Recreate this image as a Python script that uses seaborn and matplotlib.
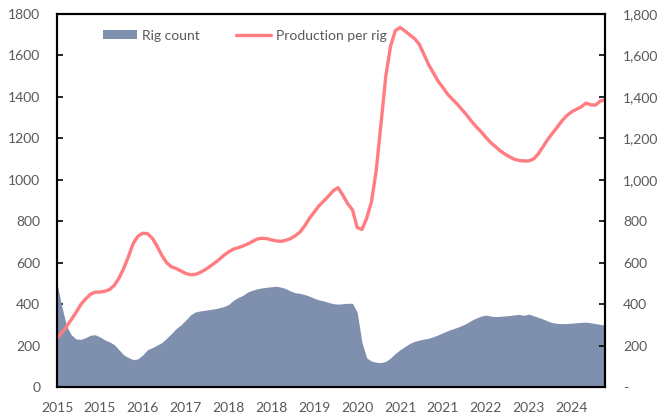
import matplotlib
matplotlib.use("Agg")
import matplotlib.pyplot as plt
import matplotlib.ticker as mticker
from matplotlib.patches import Patch
from matplotlib.lines import Line2D
import numpy as np
import pandas as pd
import seaborn as sns

# Monthly series, Jan 2015 - Aug 2024
rig_count = [
    500, 390, 295, 252, 232, 230, 238, 250, 252, 242, 228, 218,   # 2015
    205, 180, 155, 142, 132, 136, 155, 180, 190, 202, 215, 235,   # 2016
    258, 282, 300, 322, 348, 362, 367, 370, 374, 377, 382, 388,   # 2017
    398, 418, 432, 442, 458, 467, 474, 478, 481, 484, 486, 482,   # 2018
    475, 463, 455, 452, 446, 438, 428, 420, 415, 408, 402, 400,   # 2019
    402, 404, 404, 360, 215, 140, 125, 119, 118, 124, 140, 162,   # 2020
    180, 195, 210, 220, 226, 231, 235, 243, 252, 262, 272, 280,   # 2021
    288, 297, 308, 322, 333, 342, 347, 342, 340, 341, 343, 345,   # 2022
    348, 350, 346, 352, 344, 336, 328, 318, 310, 307, 306, 306,   # 2023
    308, 310, 312, 313, 310, 306, 302, 299,                       # 2024
]
production_per_rig = [
    235, 262, 292, 325, 360, 398, 425, 447, 458, 458, 462, 470,
    490, 525, 572, 630, 693, 728, 742, 740, 718, 680, 635, 600,
    580, 572, 560, 548, 542, 543, 552, 565, 580, 597, 615, 635,
    652, 665, 672, 680, 690, 702, 714, 718, 716, 710, 705, 703,
    708, 716, 730, 748, 778, 815, 845, 875, 898, 922, 948, 962,
    925, 885, 855, 770, 760, 815, 895, 1047, 1272, 1500, 1645, 1720,
    1735, 1718, 1700, 1682, 1655, 1605, 1555, 1515, 1475, 1445, 1412, 1388,
    1365, 1338, 1312, 1282, 1255, 1232, 1205, 1180, 1160, 1140, 1124, 1110,
    1099, 1093, 1091, 1091, 1100, 1125, 1160, 1195, 1225, 1255, 1285, 1310,
    1328, 1340, 1352, 1370, 1362, 1360, 1380, 1385,
]
tick_labels = ["2015", "2015", "2016", "2017", "2018", "2018", "2019",
               "2020", "2021", "2021", "2022", "2023", "2024"]
series_names = ["Rig count", "Production per rig"]

df = pd.DataFrame({
    "month": np.arange(len(rig_count)),
    "rigs": rig_count,
    "prod": production_per_rig,
})

AREA = "#7F8FAE"
LINE = "#FF7C80"
TEXT = "#595959"
FS = 10

sns.set_theme(style="white")
plt.rcParams["font.family"] = ["Lato", "DejaVu Sans"]

fig = plt.figure(figsize=(6.72, 4.19), dpi=100)
ax = fig.add_axes([57 / 672, 32 / 419, 548 / 672, 373 / 419])
ax2 = ax.twinx()

ax.fill_between(df["month"], 0, df["rigs"], color=AREA, linewidth=0)
sns.lineplot(data=df, x="month", y="prod", ax=ax2, color=LINE, linewidth=2.4)

for a in (ax, ax2):
    a.set_ylim(0, 1800)
    a.set_xlim(0, len(rig_count) - 1)
    a.set_yticks(np.arange(0, 1801, 200))
    a.set_xlabel("")
    a.set_ylabel("")
    for s in a.spines.values():
        s.set_color("black")
        s.set_linewidth(1.5)

ax.set_xticks(np.arange(0, 9 * len(tick_labels), 9))
ax.set_xticklabels(tick_labels)
ax.tick_params(axis="x", direction="in", length=4, width=1.2, color="black",
               labelsize=FS, labelcolor=TEXT, pad=11, bottom=True)
ax.tick_params(axis="y", direction="in", length=4, width=1.2, color="black",
               labelsize=FS, labelcolor=TEXT, pad=12, left=True)
ax2.tick_params(axis="y", direction="in", length=4, width=1.2, color="black",
                labelsize=FS, labelcolor=TEXT, pad=13, right=True)
ax2.yaxis.set_major_formatter(mticker.FuncFormatter(
    lambda v, _: "-" if v == 0 else f"{int(v):,}"))
for lbl in ax2.get_yticklabels():
    lbl.set_horizontalalignment("left")

handles = [Patch(facecolor=AREA, edgecolor="none"),
           Line2D([0], [0], color=LINE, linewidth=2.4)]
ax2.legend(handles, series_names, loc="upper left", ncol=2, frameon=False,
           bbox_to_anchor=(90 / 672, 1 - 17 / 419), bbox_transform=fig.transFigure,
           fontsize=FS, labelcolor=TEXT, handlelength=2.5, columnspacing=2.6,
           handletextpad=0.35, handleheight=0.6)

fig.savefig("out.png", dpi=100)
